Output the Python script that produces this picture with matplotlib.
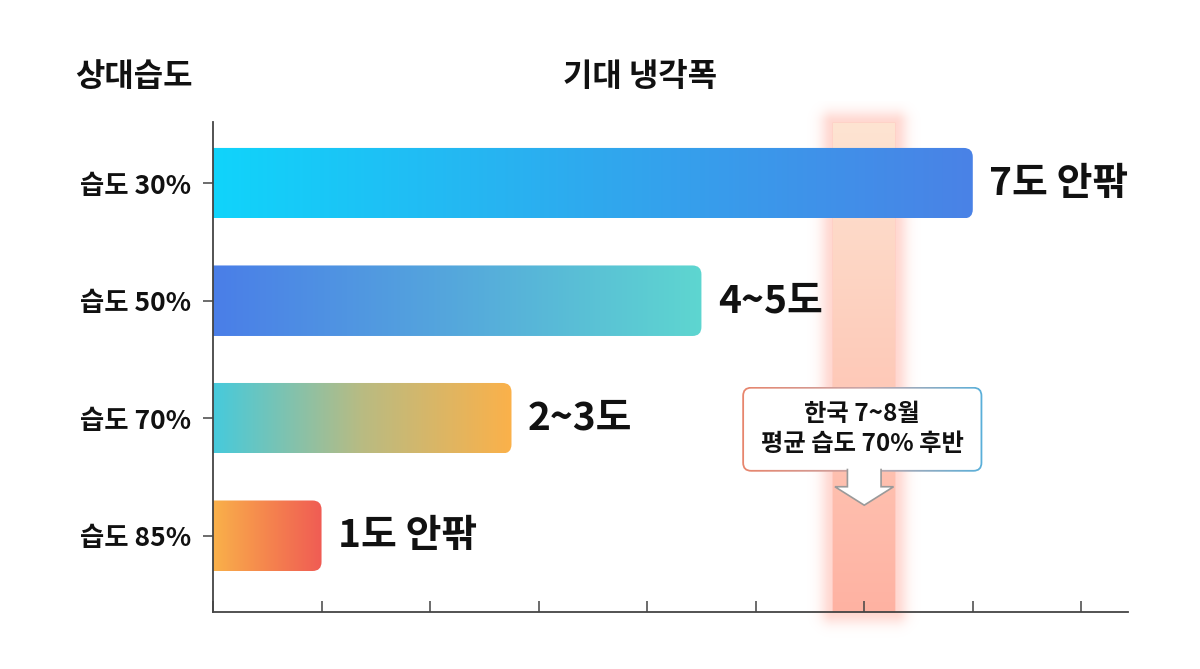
import numpy as np
import matplotlib
matplotlib.use('Agg')
import matplotlib.pyplot as plt
from matplotlib.patches import FancyBboxPatch, Polygon
from matplotlib.colors import to_rgb

plt.rcParams['font.family'] = ['Noto Sans CJK KR', 'DejaVu Sans']

# data
humidity = ['습도 30%', '습도 50%', '습도 70%', '습도 85%']
cooling = [7.0, 4.5, 2.75, 1.0]
value_labels = ['7도 안팎', '4~5도', '2~3도', '1도 안팎']
bar_colors = [
    ['#10d4fb', '#2fa9ee', '#4a82e6'],
    ['#4a7ee8', '#55a8dc', '#5ed6d0'],
    ['#46cadc', '#b9bb82', '#fbb14a'],
    ['#f9b14a', '#f5854e', '#f05c54'],
]
korea_avg = 6.0  # 한국 7~8월 평균 습도 위치
note = '한국 7~8월\n평균 습도 70% 후반'


def gradient(colors, n=256):
    cs = np.array([to_rgb(c) for c in colors])
    t = np.linspace(0, 1, n)
    pos = np.linspace(0, 1, len(cs))
    out = np.stack([np.interp(t, pos, cs[:, k]) for k in range(3)], axis=-1)
    return out[None, :, :]


fig = plt.figure(figsize=(12, 6.69), dpi=100)
ax = fig.add_axes([0.1775, 0.085, 0.7625, 0.7325])
ax.set_xlim(0, 8.43)
ax.set_ylim(3.65, -0.52)

# pixel -> data helpers (for rounding aspect)
px_x = 8.43 / (0.7625 * 1200)
px_y = 4.17 / (0.7325 * 669)
aspect = px_y / px_x

# highlight band with glow
bw = 0.29
gx = np.linspace(korea_avg - 0.8, korea_avg + 0.8, 300)
gy = np.linspace(-0.7, 3.9, 400)
X, Y = np.meshgrid(gx, gy)
dx = np.clip(np.abs(X - korea_avg) - bw, 0, None) / px_x
dy_top = np.clip(-0.52 - Y, 0, None) / px_y
dy_bot = np.clip(Y - 3.65, 0, None) / px_y
d = np.sqrt(dx ** 2 + (dy_top + dy_bot) ** 2)
inside = (d == 0)
t = np.clip((Y + 0.52) / 4.17, 0, 1)
top_c = np.array(to_rgb('#fde4d2'))
bot_c = np.array(to_rgb('#ffb2a2'))
glow_c = np.array(to_rgb('#ff9d8c'))
rgba = np.zeros(X.shape + (4,))
inner = top_c[None, None, :] * (1 - t[..., None]) + bot_c[None, None, :] * t[..., None]
rgba[..., :3] = np.where(inside[..., None], inner, glow_c[None, None, :])
rgba[..., 3] = np.where(inside, 1.0, 0.4 * np.exp(-(d / 12.0) ** 2))
ax.imshow(rgba, extent=(gx[0], gx[-1], gy[-1], gy[0]), aspect='auto',
          interpolation='bilinear', zorder=1, clip_on=False)

# gradient bars
h = 0.6
for i, (v, cols) in enumerate(zip(cooling, bar_colors)):
    clip = FancyBboxPatch((-0.3, i - h / 2), v + 0.3, h,
                          boxstyle='round,pad=0,rounding_size=%f' % (9 * px_x),
                          mutation_aspect=aspect, facecolor='none',
                          edgecolor='none', zorder=3)
    ax.add_patch(clip)
    im = ax.imshow(gradient(cols), extent=(0, v, i + h / 2, i - h / 2),
                   aspect='auto', interpolation='bilinear', zorder=3)
    im.set_clip_path(clip)
    ax.text(v + 0.15, i, value_labels[i], fontsize=28, fontweight='bold',
            va='center', ha='left', color='#111111', zorder=4)

ax.set_xlim(0, 8.43)
ax.set_ylim(3.65, -0.52)

# annotation box
bx0, by0, bw_, bh_ = 4.876, 1.733, 2.212, 0.722
outer = FancyBboxPatch((bx0, by0), bw_, bh_,
                       boxstyle='round,pad=0,rounding_size=%f' % (9 * px_x),
                       mutation_aspect=aspect, facecolor='none',
                       edgecolor='none', zorder=5)
ax.add_patch(outer)
bim = ax.imshow(gradient(['#e8856c', '#c9a6a8', '#5ab0da']),
                extent=(bx0, bx0 + bw_, by0 + bh_, by0), aspect='auto',
                interpolation='bilinear', zorder=5)
bim.set_clip_path(outer)
ax.add_patch(FancyBboxPatch((bx0 + 1.8 * px_x, by0 + 1.8 * px_y),
                            bw_ - 3.6 * px_x, bh_ - 3.6 * px_y,
                            boxstyle='round,pad=0,rounding_size=%f' % (7 * px_x),
                            mutation_aspect=aspect, facecolor='white',
                            edgecolor='none', zorder=6))
ax.text(bx0 + bw_ / 2, by0 + bh_ / 2, note, fontsize=17.5, fontweight='bold',
        ha='center', va='center', linespacing=1.3, color='#111111', zorder=7)

# down arrow
sw, hw = 0.155, 0.27
ytop = by0 + bh_ - 3 * px_y
yb, ytip = 2.583, 2.74
arrow = Polygon([(korea_avg - sw, ytop), (korea_avg - sw, yb),
                 (korea_avg - hw, yb), (korea_avg, ytip),
                 (korea_avg + hw, yb), (korea_avg + sw, yb),
                 (korea_avg + sw, ytop)], closed=False,
                facecolor='white', edgecolor='#9a9a9a', linewidth=1.2,
                zorder=7)
ax.add_patch(arrow)

# axes styling
for s in ['top', 'right']:
    ax.spines[s].set_visible(False)
for s in ['left', 'bottom']:
    ax.spines[s].set_color('#444444')
    ax.spines[s].set_linewidth(1.3)
    ax.spines[s].set_zorder(8)
ax.set_xticks(np.arange(0, 9))
ax.set_xticklabels([])
ax.tick_params(axis='x', direction='in', length=8, width=1.1, color='#444444')
ax.set_yticks(range(len(humidity)))
ax.set_yticklabels(humidity, fontsize=19, fontweight='bold', color='#111111')
ax.tick_params(axis='y', direction='out', length=7, width=1.1,
               color='#444444', pad=9)

fig.text(75 / 1200, 1 - 77 / 669, '상대습도', fontsize=23, fontweight='bold',
         ha='left', va='center', color='#111111')
fig.text(640 / 1200, 1 - 77 / 669, '기대 냉각폭', fontsize=23,
         fontweight='bold', ha='center', va='center', color='#111111')

fig.savefig('out.png', dpi=100, facecolor='white')
